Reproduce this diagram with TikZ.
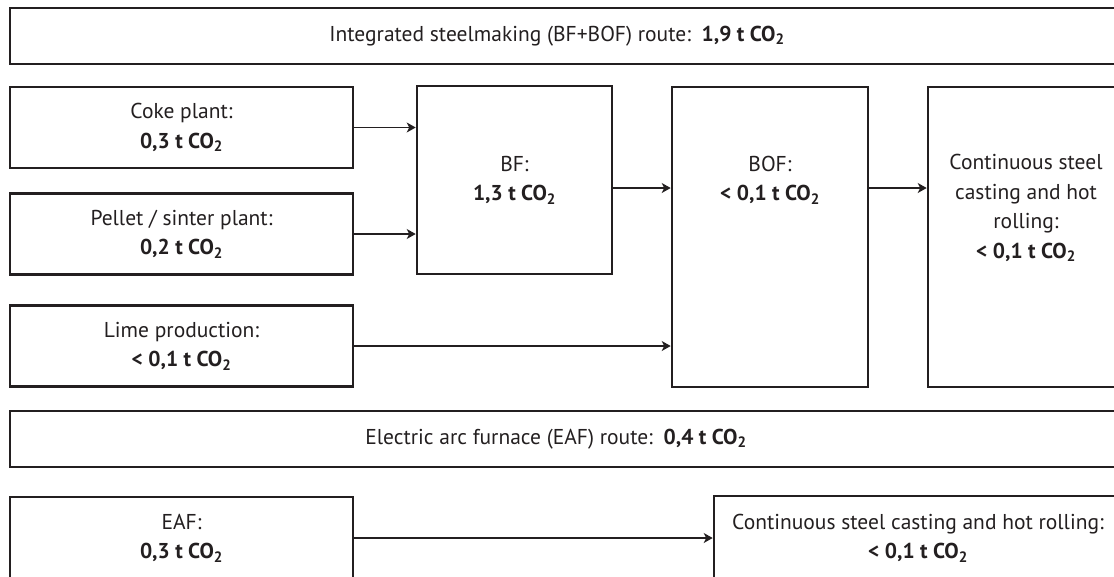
\documentclass[tikz,border=0pt]{standalone}
\usepackage{fontspec}
\setmainfont{PT Sans}
\usepackage{tikz}
\usetikzlibrary{arrows.meta}
\usetikzlibrary{calc}
\usetikzlibrary{positioning}
\definecolor{ink}{HTML}{231F20}
\tikzstyle{stage} = [
    rectangle,
    draw=ink,
    line width=2.6pt,
    inner sep=0pt,
    text=ink,
    align=center
]
\tikzstyle{route} = [stage, minimum width=1114pt, minimum height=56pt]
\tikzstyle{plant} = [stage, minimum width=343pt, minimum height=81pt]
\tikzstyle{furnace} = [stage, minimum width=196pt, minimum height=300pt]
\tikzstyle{txt} = [inner sep=0pt, text=ink, align=center]
\tikzstyle{flow} = [
    draw=ink,
    -{Stealth[length=9pt, width=10pt, inset=2.5pt]},
    line width=1.5pt
]
\newcommand{\co}[1]{\textbf{#1~t~CO\textsubscript{2}}}

\begin{document}
\begin{tikzpicture}[x=1pt, y=-1pt, font=\fontsize{21.5}{29.5}\selectfont]

\useasboundingbox (0,0) rectangle (1114,576);
\clip (0,0) rectangle (1114,576);

% BF+BOF route
\node[route] (bfbof) at (567,36) {};
\node[txt] (bfbof-txt) at (557,36) {Integrated steelmaking (BF+BOF) route:\enspace\co{1,9}};

\node[plant] (coke)   at (181.5,127.5) {Coke plant:\\ \co{0,3}};
\node[plant] (pellet) at (181.5,234)   {Pellet / sinter plant:\\ \co{0,2}};
\node[plant] (lime)   at (181.5,346)   {Lime production:\\ \co{< 0,1}};

\node[stage, minimum width=195pt, minimum height=188pt] (bf) at (514.5,180) {BF:\\ \co{1,3}};

\node[furnace] (bof) at (770,237) {};
\node[txt] (bof-txt) at (770,180) {BOF:\\ \co{< 0,1}};

\node[furnace] (cc) at (1026,237) {};
\node[txt] (cc-txt) at (1026,208) {Continuous steel\\ casting and hot\\ rolling:\\ \co{< 0,1}};

\draw[flow] (coke.east)   to (coke.east -| bf.west);
\draw[flow] (pellet.east) to (pellet.east -| bf.west);
\draw[flow] ([yshift=-8pt]bf.east) to ([yshift=-8pt]bf.east -| bof.west);
\draw[flow] (lime.east)   to (lime.east -| bof.west);
\draw[flow] ([yshift=-8pt]bf.east -| bof.east) to ([yshift=-8pt]bf.east -| cc.west);

% EAF route
\node[route] (eafroute) at (567,439) {};
\node[txt] (eafroute-txt) at (556,439) {Electric arc furnace (EAF) route:\enspace\co{0,4}};

\node[plant, minimum height=82pt] (eaf) at (181.5,538) {EAF:\\ \co{0,3}};
\node[stage, minimum width=408pt, minimum height=84pt] (cc2) at (918,538) {Continuous steel casting and hot rolling:\\ \co{< 0,1}};

\draw[flow] (eaf.east) to (eaf.east -| cc2.west);

\end{tikzpicture}
\end{document}
